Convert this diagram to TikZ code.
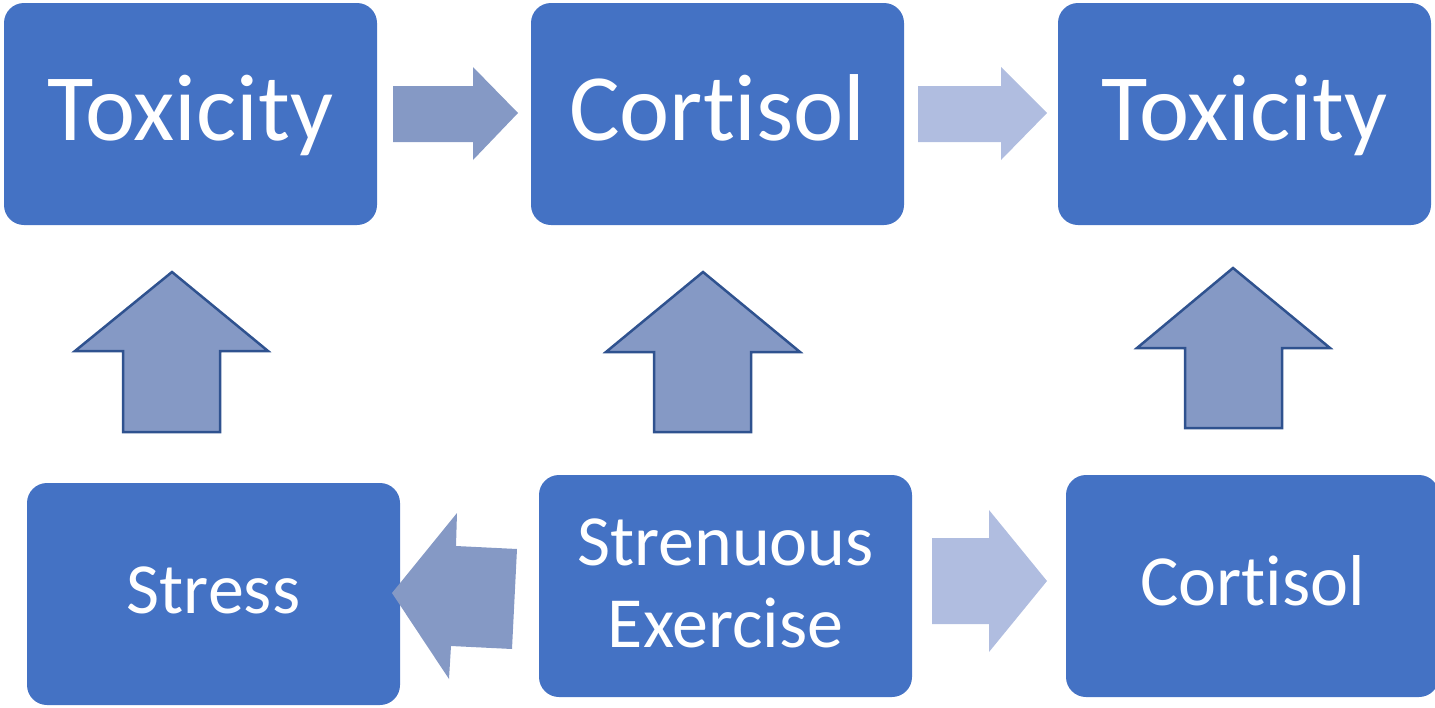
\documentclass[tikz,border=0pt]{standalone}
\usepackage{fontspec}
\setmainfont{Carlito}[Ligatures=CommonOff]
\usetikzlibrary{calc}
\definecolor{boxblue}{HTML}{4472C4}
\definecolor{arrdark}{HTML}{8599C5}
\definecolor{arrlight}{HTML}{B0BDE0}
\definecolor{edgeblue}{HTML}{2F528F}
\tikzset{
  box/.style={draw=none, fill=boxblue, rounded corners=20pt, minimum width=373pt, minimum height=222pt, inner sep=0pt},
  bigtxt/.style={text=white, font=\fontsize{95}{110}\selectfont, anchor=base, inner sep=0pt},
  smalltxt/.style={text=white, font=\fontsize{72}{82}\selectfont, anchor=base, inner sep=0pt},
  darkarrow/.style={fill=arrdark, draw=none},
  lightarrow/.style={fill=arrlight, draw=none},
  uparrow/.style={fill=arrdark, draw=edgeblue, line width=2.5pt, line join=miter},
}
\begin{document}
\begin{tikzpicture}[x=1pt, y=-1pt]
\useasboundingbox (0,0) rectangle (1435,707);
% boxes
\node[box] (t1) at (190.5,114) {};
\node[box] (t2) at (717.5,114) {};
\node[box] (t3) at (1244.5,114) {};
\node[box] (b1) at (213.5,594) {};
\node[box] (b2) at (725.5,586) {};
\node[box] (b3) at (1252.5,586) {};
% texts
\node[bigtxt] (t1txt) at (190.5,140) {Toxicity};
\node[bigtxt] (t2txt) at (717.5,140) {Cortisol};
\node[bigtxt] (t3txt) at (1244.5,140) {Toxicity};
\node[smalltxt] (b1txt) at (213.5,613) {Stress};
\node[smalltxt] (b2txt1) at (725.5,565) {Strenuous};
\node[smalltxt] (b2txt2) at (725.5,647) {Exercise};
\node[smalltxt] (b3txt) at (1252.5,605) {Cortisol};
% top right arrows
\fill[darkarrow] (393,86) -- (473,86) -- (473,67) -- (518,113) -- (473,160) -- (473,142) -- (393,142) -- cycle;
\fill[lightarrow] (918,86) -- (1001,86) -- (1001,67) -- (1047,113) -- (1001,160) -- (1001,142) -- (918,142) -- cycle;
% up arrows
\draw[uparrow] (172,272) -- (268,351) -- (220,351) -- (220,432) -- (123,432) -- (123,351) -- (75,351) -- cycle;
\draw[uparrow] (703,272) -- (800,352) -- (751,352) -- (751,432) -- (654,432) -- (654,352) -- (606,352) -- cycle;
\draw[uparrow] (1233,268) -- (1330,348) -- (1282,348) -- (1282,428) -- (1185,428) -- (1185,348) -- (1137,348) -- cycle;
% bottom arrows
\fill[darkarrow] (392,593) -- (457,513) -- (456,546) -- (517,549) -- (512,649) -- (451,646) -- (449,679) -- cycle;
\fill[lightarrow] (932,538) -- (989,538) -- (989,510) -- (1047,581) -- (989,652) -- (989,624) -- (932,624) -- cycle;
\end{tikzpicture}
\end{document}
